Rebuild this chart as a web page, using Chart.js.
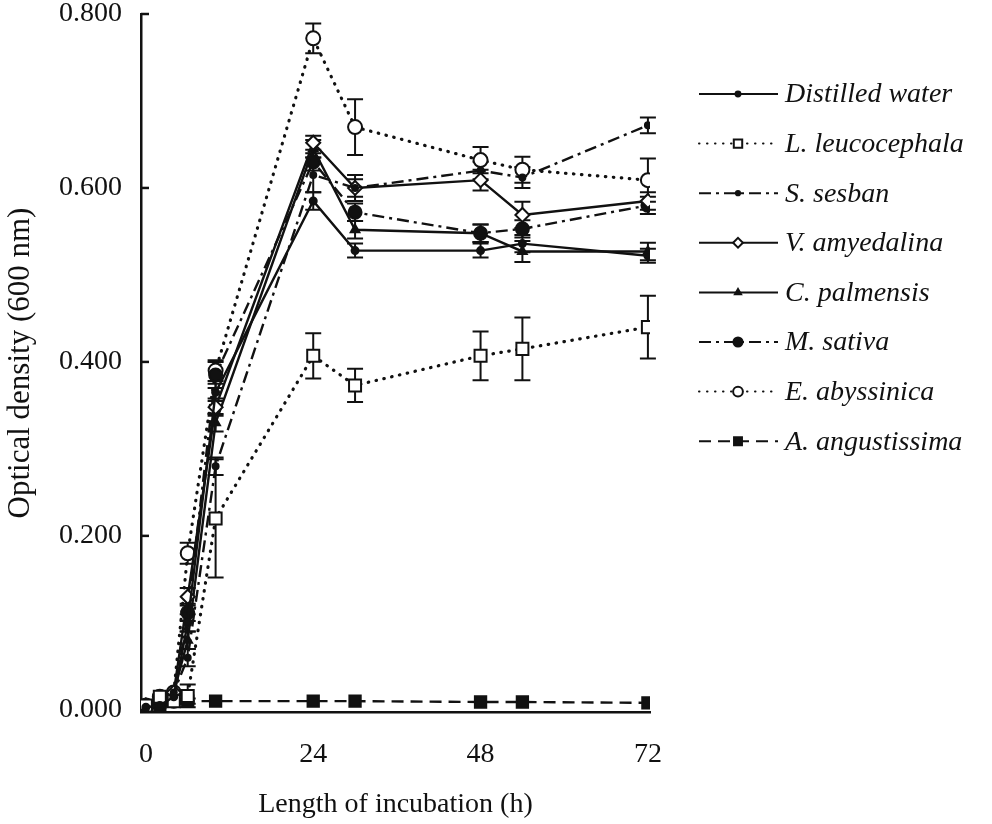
<!DOCTYPE html>
<html>
<head>
<meta charset="utf-8">
<script src="https://cdn.jsdelivr.net/npm/chart.js@4.4.0/dist/chart.umd.min.js"></script>
<style>
html, body { margin: 0; background: #fff; }
</style>
</head>
<body>
<canvas id="odChart" width="992" height="824"></canvas>
<script>
// incubation times (h) and axis ticks
let hours = [0, 2, 4, 6, 10, 24, 30, 48, 54, 72]
let xTicks = [0, 24, 48, 72]
let yTicks = [0, 0.2, 0.4, 0.6, 0.8]

let seriesNames = ["Distilled water", "L. leucocephala", "S. sesban", "V. amyedalina",
    "C. palmensis", "M. sativa", "E. abyssinica", "A. angustissima"]

// optical density readings
let distilledWater = [0.003, 0.005, 0.015, 0.100, 0.365, 0.585, 0.528, 0.528, 0.536, 0.522]
let leucocephala = [0.005, 0.015, 0.010, 0.016, 0.220, 0.407, 0.373, 0.407, 0.415, 0.440]
let sesban = [0.005, 0.010, 0.020, 0.060, 0.280, 0.615, 0.600, 0.620, 0.612, 0.672]
let amyedalina = [0.005, 0.010, 0.020, 0.130, 0.348, 0.652, 0.600, 0.609, 0.569, 0.585]
let palmensis = [0.003, 0.008, 0.020, 0.080, 0.330, 0.645, 0.552, 0.548, 0.527, 0.527]
let sativa = [0.003, 0.005, 0.010, 0.112, 0.385, 0.630, 0.572, 0.548, 0.553, 0.580]
let abyssinica = [0.005, 0.015, 0.020, 0.180, 0.390, 0.772, 0.670, 0.632, 0.621, 0.609]
let angustissima = [0.000, 0.005, 0.010, 0.010, 0.010, 0.010, 0.010, 0.009, 0.009, 0.008]

// standard error (+/-)
let distilledErr = [0, 0, 0, 0.010, 0.010, 0.010, 0.008, 0.008, 0.010, 0.008]
let leucocephalaErr = [0, 0, 0, 0.013, 0.068, 0.026, 0.019, 0.028, 0.036, 0.036]
let sesbanErr = [0, 0, 0, 0.010, 0.010, 0.020, 0.010, 0.010, 0.012, 0.009]
let amyedalinaErr = [0, 0, 0, 0.010, 0.010, 0.008, 0.015, 0.012, 0.015, 0.010]
let palmensisErr = [0, 0, 0, 0.010, 0.010, 0.010, 0.010, 0.010, 0.012, 0.010]
let sativaErr = [0, 0, 0, 0.010, 0.015, 0.010, 0.010, 0.010, 0.010, 0.010]
let abyssinicaErr = [0, 0, 0, 0.012, 0.012, 0.017, 0.032, 0.015, 0.015, 0.025]
let angustissimaErr = [0, 0, 0, 0.003, 0, 0, 0, 0, 0, 0]

let dotted = [0.5, 7.5]
let dashDot = [12, 5, 3, 5]
let dashed = [12, 7]

function toPoints(vals){
    return vals.map((v, idx) => ({x: hours[idx], y: v}))
}

function makeSet(idx, vals, errs, dash, pStyle, radius, filled){
    return {
        label: seriesNames[idx],
        data: toPoints(vals),
        errors: errs,
        borderColor: "#111",
        borderWidth: dash === dotted ? 3.2 : 2.4,
        borderDash: dash,
        borderCapStyle: dash === dotted ? "round" : "butt",
        pointStyle: pStyle,
        pointRadius: radius,
        pointBorderWidth: 2,
        pointBorderColor: "#111",
        pointBackgroundColor: filled ? "#111" : "#fff",
        tension: 0
    }
}

let datasets = [
    makeSet(0, distilledWater, distilledErr, [], "circle", 3.5, true),
    makeSet(1, leucocephala, leucocephalaErr, dotted, "rect", 8.5, false),
    makeSet(2, sesban, sesbanErr, dashDot, "circle", 3, true),
    makeSet(3, amyedalina, amyedalinaErr, [], "rectRot", 7, false),
    makeSet(4, palmensis, palmensisErr, [], "triangle", 5, true),
    makeSet(5, sativa, sativaErr, dashDot, "circle", 6.5, true),
    makeSet(6, abyssinica, abyssinicaErr, dotted, "circle", 7, false),
    makeSet(7, angustissima, angustissimaErr, dashed, "rect", 8, true)
]

let serif = "'Liberation Serif', 'DejaVu Serif', serif"

let errorBars = {
    id: "errorBars",
    beforeDatasetsDraw(chart){
        let ctx = chart.ctx
        let yScale = chart.scales.y
        let xScale = chart.scales.x
        ctx.save()
        ctx.strokeStyle = "#111"
        ctx.lineWidth = 2
        chart.data.datasets.forEach(ds => {
            ds.data.forEach((p, idx) => {
                let e = ds.errors[idx]
                if(!e) return
                let px = xScale.getPixelForValue(p.x)
                let top = yScale.getPixelForValue(p.y + e)
                let bot = yScale.getPixelForValue(p.y - e)
                ctx.beginPath()
                ctx.moveTo(px, top); ctx.lineTo(px, bot)
                ctx.moveTo(px - 8, top); ctx.lineTo(px + 8, top)
                ctx.moveTo(px - 8, bot); ctx.lineTo(px + 8, bot)
                ctx.stroke()
            })
        })
        ctx.restore()
    }
}

let innerTicks = {
    id: "innerTicks",
    afterDraw(chart){
        let ctx = chart.ctx
        let yScale = chart.scales.y
        let left = chart.chartArea.left
        ctx.save()
        ctx.strokeStyle = "#111"
        ctx.lineWidth = 2.5
        yTicks.forEach(v => {
            let py = yScale.getPixelForValue(v)
            ctx.beginPath()
            ctx.moveTo(left, py)
            ctx.lineTo(left + 8, py)
            ctx.stroke()
        })
        ctx.restore()
    }
}

function drawMarker(ctx, ds, x, y, scale){
    let r = ds.pointRadius * scale
    ctx.save()
    ctx.setLineDash([])
    ctx.lineWidth = 2
    ctx.strokeStyle = "#111"
    ctx.fillStyle = ds.pointBackgroundColor
    ctx.beginPath()
    if(ds.pointStyle === "circle"){
        ctx.arc(x, y, r, 0, Math.PI * 2)
    } else if(ds.pointStyle === "rect"){
        let s = r * Math.SQRT1_2
        ctx.rect(x - s, y - s, 2 * s, 2 * s)
    } else if(ds.pointStyle === "rectRot"){
        ctx.moveTo(x, y - r); ctx.lineTo(x + r, y); ctx.lineTo(x, y + r); ctx.lineTo(x - r, y)
        ctx.closePath()
    } else if(ds.pointStyle === "triangle"){
        ctx.moveTo(x, y - r); ctx.lineTo(x + r * 0.87, y + r * 0.5); ctx.lineTo(x - r * 0.87, y + r * 0.5)
        ctx.closePath()
    }
    ctx.fill()
    ctx.stroke()
    ctx.restore()
}

let sideLegend = {
    id: "sideLegend",
    afterDraw(chart){
        let ctx = chart.ctx
        ctx.save()
        chart.data.datasets.forEach((ds, idx) => {
            let y = 94 + idx * 49.6
            ctx.strokeStyle = "#111"
            ctx.lineWidth = 2
            ctx.lineCap = ds.borderCapStyle
            ctx.setLineDash(ds.borderDash)
            ctx.beginPath()
            ctx.moveTo(699, y)
            ctx.lineTo(778, y)
            ctx.stroke()
            drawMarker(ctx, ds, 738, y, 0.7)
            ctx.fillStyle = "#111"
            ctx.font = "italic 28px " + serif
            ctx.textBaseline = "middle"
            ctx.textAlign = "left"
            ctx.fillText(ds.label, 785, y + 1)
        })
        ctx.restore()
    }
}

new Chart(document.getElementById("odChart"), {
    type: "line",
    data: { datasets: datasets },
    plugins: [errorBars, innerTicks, sideLegend],
    options: {
        responsive: false,
        animation: false,
        layout: { padding: { left: 0, right: 342, top: 14, bottom: 0 } },
        plugins: { legend: { display: false }, tooltip: { enabled: false } },
        scales: {
            x: {
                type: "linear",
                min: -0.7,
                max: 72.3,
                afterBuildTicks: scale => { scale.ticks = xTicks.map(v => ({value: v})) },
                afterFit: scale => { scale.height = 112; scale.paddingLeft = 0; scale.paddingRight = 0 },
                grid: { display: false },
                border: { display: true, color: "#111", width: 2.5 },
                ticks: { color: "#111", padding: 18, maxRotation: 0, font: { family: serif, size: 28 } },
                title: { display: true, text: "Length of incubation (h)", color: "#111",
                    padding: { bottom: 3 }, font: { family: serif, size: 28 } }
            },
            y: {
                min: -0.0025,
                max: 0.8,
                afterBuildTicks: scale => { scale.ticks = yTicks.map(v => ({value: v})) },
                afterFit: scale => { scale.width = 141; scale.paddingTop = 0; scale.paddingBottom = 0 },
                grid: { display: false },
                border: { display: true, color: "#111", width: 2.5 },
                ticks: { color: "#111", padding: 11, font: { family: serif, size: 28 },
                    callback: v => v.toFixed(3) },
                title: { display: true, text: "Optical density (600 nm)", color: "#111",
                    padding: { top: 2 }, font: { family: serif, size: 31 } }
            }
        }
    }
})
</script>
</body>
</html>
